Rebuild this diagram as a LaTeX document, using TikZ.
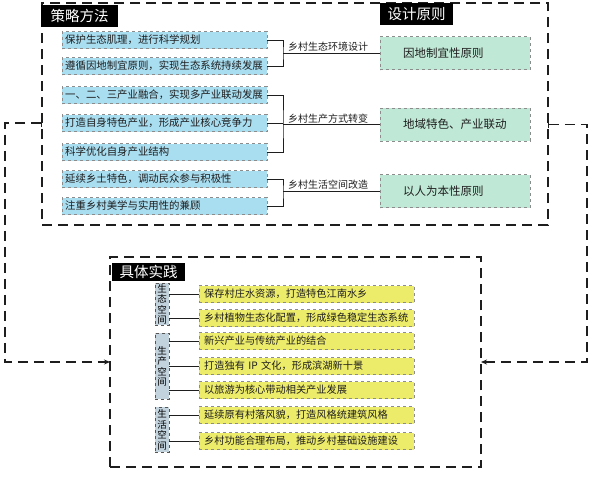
\documentclass[tikz,border=0pt]{standalone}
\usepackage{fontspec}
\setmainfont{Noto Sans CJK SC}
\usepackage{tikz}
\usetikzlibrary{arrows.meta,positioning}
\definecolor{szInk}{HTML}{1E1E1E}
\definecolor{szGray}{HTML}{8C8C8C}
\definecolor{szBlue}{HTML}{A9DDF0}
\definecolor{szGreen}{HTML}{C0E8D6}
\definecolor{szYellow}{HTML}{EDEC6A}
\definecolor{szSide}{HTML}{C2D3DE}
\tikzset{
  bbox/.style={rectangle,anchor=west,
    text width=199pt,inner xsep=3pt,inner ysep=0pt,minimum height=17pt,
    align=left,draw=szGray,dashed,fill=szBlue,
    font=\fontsize{10.4}{12}\selectfont,text=szInk},
  gbox/.style={rectangle,anchor=west,
    text width=104pt,inner xsep=23pt,inner ysep=0pt,minimum height=33pt,
    align=left,draw=szGray,dashed,fill=szGreen,
    font=\fontsize{11.5}{13}\selectfont,text=szInk},
  ybox/.style={rectangle,anchor=west,
    text width=205pt,inner xsep=5pt,inner ysep=0pt,minimum height=17pt,
    align=left,draw=szGray,dashed,fill=szYellow,
    font=\fontsize{10.2}{12}\selectfont,text=szInk},
  sidebox/.style={rectangle,anchor=north west,
    text width=11pt,inner xsep=1.5pt,inner ysep=0pt,minimum width=14pt,
    align=center,draw=szInk!75,dashed,fill=szSide,
    font=\fontsize{9.5}{10.5}\selectfont,text=black},
  ttl/.style={rectangle,anchor=north west,inner sep=0pt,
    minimum height=22pt,fill=black,text=white,
    font=\fontsize{14.5}{16}\selectfont},
  frame/.style={rectangle,anchor=north west,outer sep=0pt,
    draw=szInk,line width=1.3pt,dash pattern=on 10pt off 6pt},
  brk/.style={draw=szInk,line width=0.8pt},
  lbl/.style={anchor=south west,inner sep=1pt,
    font=\fontsize{10}{12}\selectfont,text=szInk},
  link/.style={{Bar[width=7pt]}-{Stealth[length=6pt,width=5pt]},
    draw=szInk,line width=1.3pt,dash pattern=on 10pt off 6pt},
}

\begin{document}
\begin{tikzpicture}[x=1pt,y=-1pt]
  \useasboundingbox (0,0) rectangle (593,477);

  % frames
  \node[frame,minimum width=506pt,minimum height=222pt] (topfr) at (42,3) {};
  \node[frame,minimum width=371pt,minimum height=210pt] (botfr) at (110,257) {};

  \node[ttl,minimum width=77pt] (t1) at (41,5) {策略方法};
  \node[ttl,minimum width=73pt] (t2) at (380,3) {设计原则};
  \node[ttl,minimum width=73pt,minimum height=18pt] (t3) at (112,263) {具体实践};

  % strategy boxes
  \node[bbox] (b1) at (62,40) {保护生态肌理，进行科学规划};
  \node[bbox] (b2) at (62,66) {遵循因地制宜原则，实现生态系统持续发展};
  \node[bbox] (b3) at (62,95) {一、二、三产业融合，实现多产业联动发展};
  \node[bbox] (b4) at (62,123) {打造自身特色产业，形成产业核心竞争力};
  \node[bbox] (b5) at (62,152) {科学优化自身产业结构};
  \node[bbox] (b6) at (62,179) {延续乡土特色，调动民众参与积极性};
  \node[bbox] (b7) at (62,206) {注重乡村美学与实用性的兼顾};

  % principle boxes
  \node[gbox] (g1) at (380,53) {因地制宜性原则};
  \node[gbox] (g2) at (380,124.5) {地域特色、产业联动};
  \node[gbox] (g3) at (380,191) {以人为本性原则};

  \coordinate (j1) at (283,53);
  \coordinate (j2) at (283,124.5);
  \coordinate (j3) at (283,191);

  \draw[brk] (b1.east) -| (j1) |- (b2.east);
  \draw[brk] (j1) -- (g1.west);
  \draw[brk] (b3.east) -| (j2) |- (b5.east);
  \draw[brk] (b4.east) -- (b4.east -| j2);
  \draw[brk] (j2) -- (g2.west);
  \draw[brk] (b6.east) -| (j3) |- (b7.east);
  \draw[brk] (j3) -- (g3.west);

  \node[lbl] (l1) at ([xshift=4pt]j1) {乡村生态环境设计};
  \node[lbl] (l2) at ([xshift=4pt]j2) {乡村生产方式转变};
  \node[lbl] (l3) at ([xshift=4pt]j3) {乡村生活空间改造};

  % practice
  \node[sidebox,minimum height=42pt] (s1) at (155,283) {生\\态\\空\\间};
  \node[sidebox,minimum height=66pt] (s2) at (155,333) {生\\产\\空\\间};
  \node[sidebox,minimum height=45pt] (s3) at (155,407) {生\\活\\空\\间};

  \node[ybox] (y1) at (199,294) {保存村庄水资源，打造特色江南水乡};
  \node[ybox] (y2) at (199,318) {乡村植物生态化配置，形成绿色稳定生态系统};
  \node[ybox] (y3) at (199,341) {新兴产业与传统产业的结合};
  \node[ybox] (y4) at (199,366) {打造独有 IP 文化，形成滨湖新十景};
  \node[ybox] (y5) at (199,390) {以旅游为核心带动相关产业发展};
  \node[ybox] (y6) at (199,415) {延续原有村落风貌，打造风格统建筑风格};
  \node[ybox] (y7) at (199,441) {乡村功能合理布局，推动乡村基础设施建设};

  \foreach \s/\y in {s1/y1,s1/y2,s2/y3,s2/y4,s2/y5,s3/y6,s3/y7}
    \draw[brk] (\y.west) -- (\y.west -| \s.east);

  % links between frames
  \draw[link] (topfr.west |- b4) -- ++(-37,0) |- (botfr.west);
  \draw[link] (topfr.east |- g2) -- ++(39,0) |- (botfr.east);

\end{tikzpicture}
\end{document}
